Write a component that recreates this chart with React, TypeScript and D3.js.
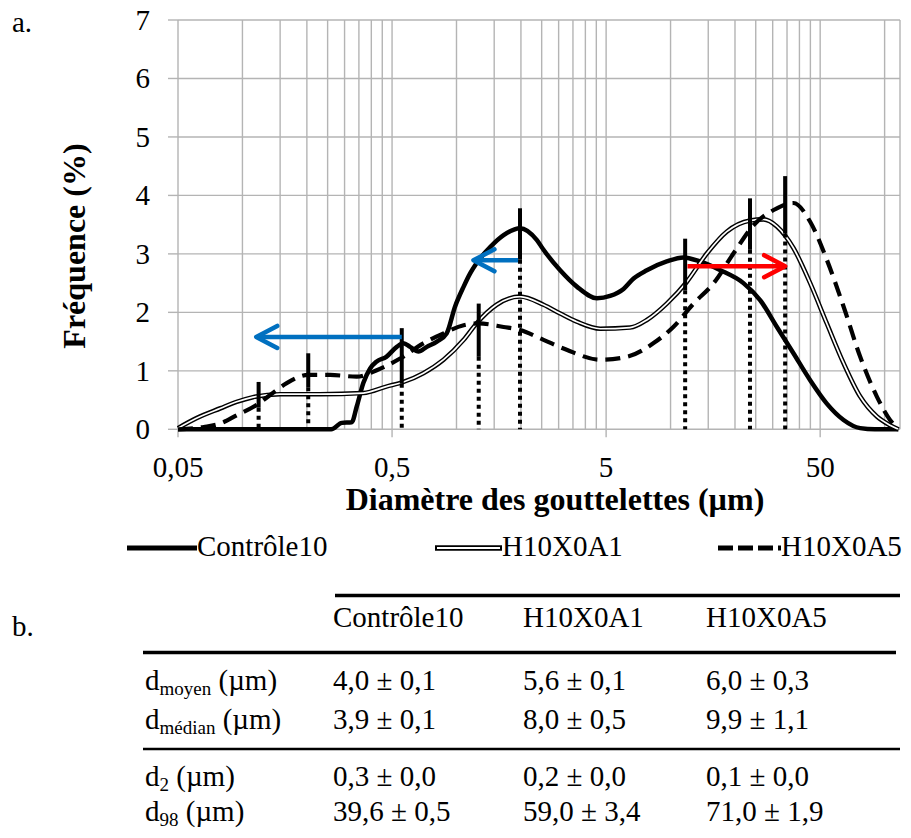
import React from 'react';
import * as d3 from 'd3';

// ---- Data (diameter in µm, frequency in %) ----
const controleX = [0.05, 0.26, 0.291, 0.324, 0.342, 0.367, 0.395, 0.424, 0.47, 0.526, 0.565, 0.607, 0.664, 0.727, 0.81, 0.9, 0.985, 1.08, 1.16, 1.24, 1.44, 1.66, 1.98, 2.37, 2.55, 3.05, 3.65, 4.53, 5.22, 6.03, 6.72, 7.75, 9.6, 11.5, 13.7, 17.1, 21.9, 26.2, 31.4, 37.5, 44.9, 53.7, 64.3, 76.9, 90, 116];
const controleY = [0, 0, 0.11, 0.12, 0.39, 0.79, 1.04, 1.16, 1.24, 1.41, 1.47, 1.41, 1.33, 1.41, 1.5, 1.64, 2.1, 2.44, 2.67, 2.84, 3.12, 3.32, 3.44, 3.24, 3.07, 2.72, 2.44, 2.24, 2.28, 2.4, 2.58, 2.72, 2.87, 2.94, 2.87, 2.72, 2.5, 2.21, 1.75, 1.3, 0.84, 0.44, 0.16, 0.02, 0, 0];

const a1X = [0.05, 0.061, 0.079, 0.094, 0.112, 0.15, 0.23, 0.367, 0.47, 0.565, 0.7, 0.87, 1.08, 1.24, 1.54, 1.98, 2.55, 3.05, 3.65, 4.69, 6.47, 7.75, 9.6, 11.9, 14.8, 18.3, 23.5, 27.2, 31.4, 37.5, 44.9, 53.7, 64.3, 76.9, 92, 106, 116];
const a1Y = [0.02, 0.19, 0.36, 0.47, 0.55, 0.6, 0.6, 0.62, 0.73, 0.81, 0.96, 1.19, 1.53, 1.81, 2.13, 2.27, 2.13, 1.98, 1.84, 1.72, 1.74, 1.87, 2.15, 2.52, 3.01, 3.38, 3.57, 3.59, 3.47, 3.1, 2.5, 1.81, 1.13, 0.56, 0.22, 0.07, 0];

const a5X = [0.05, 0.066, 0.079, 0.094, 0.119, 0.135, 0.161, 0.203, 0.257, 0.342, 0.424, 0.545, 0.7, 0.87, 1.08, 1.27, 1.66, 1.98, 2.55, 3.27, 4.69, 6.25, 8.3, 10.3, 12.8, 15.9, 19.7, 24.4, 30.3, 37.5, 44.9, 53.7, 64.3, 76.9, 92, 106, 116];
const a5Y = [0, 0.04, 0.1, 0.24, 0.44, 0.59, 0.79, 0.93, 0.93, 0.9, 1.01, 1.21, 1.47, 1.64, 1.78, 1.81, 1.75, 1.7, 1.53, 1.36, 1.19, 1.24, 1.47, 1.75, 2.15, 2.5, 3.01, 3.49, 3.75, 3.87, 3.55, 2.9, 2.1, 1.24, 0.56, 0.16, 0];

// characteristic-diameter markers (solid part + dotted drop line)
const markerX = [0.119, 0.203, 0.555, 1.27, 1.98, 11.7, 23.5, 34.3];
const markerTop = [0.81, 1.3, 1.73, 2.15, 3.78, 3.26, 3.95, 4.33];
const markerSolidBottom = [0.37, 0.72, 0.78, 1.24, 2.9, 2.38, 3.07, 3.35];

// arrows
const arrowFromX = [0.555, 1.94, 12.0];
const arrowToX = [0.116, 1.2, 34.3];
const arrowY = [1.58, 2.89, 2.79];
const arrowColor = ['#0070C0', '#0070C0', '#FF0000'];

const yTicks = [0, 1, 2, 3, 4, 5, 6, 7];
const xTickValues = [0.05, 0.5, 5, 50];
const xTickLabels = ['0,05', '0,5', '5', '50'];

const legendNames = ['Contrôle10', 'H10X0A1', 'H10X0A5'];

const tableHeaders = ['Contrôle10', 'H10X0A1', 'H10X0A5'];
const rowMain = ['d', 'd', 'd', 'd'];
const rowSub = ['moyen', 'médian', '2', '98'];
const rowRest = [' (µm)', ' (µm)', ' (µm)', ' (µm)'];
const tableValues = [
  ['4,0 ± 0,1', '5,6 ± 0,1', '6,0 ± 0,3'],
  ['3,9 ± 0,1', '8,0 ± 0,5', '9,9 ± 1,1'],
  ['0,3 ± 0,0', '0,2 ± 0,0', '0,1 ± 0,0'],
  ['39,6 ± 0,5', '59,0 ± 3,4', '71,0 ± 1,9'],
];

const FONT = "'Liberation Serif', 'Times New Roman', serif";
const GRID = '#B4B4B4';

export default function App() {
  const W = 911, H = 838;
  const x = d3.scaleLog().domain([0.05, 118]).range([178, 900]);
  const y = d3.scaleLinear().domain([0, 7]).range([429.3, 20]);

  const line = d3
    .line<[number, number]>()
    .x((d) => x(d[0]))
    .y((d) => y(d[1]))
    .curve(d3.curveMonotoneX);

  const ctrl = line(controleX.map((v, i) => [v, controleY[i]]) as [number, number][]) || '';
  const a1 = line(a1X.map((v, i) => [v, a1Y[i]]) as [number, number][]) || '';
  const a5 = line(a5X.map((v, i) => [v, a5Y[i]]) as [number, number][]) || '';

  // vertical gridlines: 0.05*k*10^n
  const vGrid: number[] = [];
  [0.05, 0.5, 5, 50].forEach((b) => {
    for (let k = 1; k <= 9; k++) {
      const v = b * k;
      if (v <= 118) vGrid.push(v);
    }
  });

  const fs = 29;
  const colX = [333, 523, 706];
  const rowBase = [690, 729, 786, 821];

  return (
    <svg
      width={W}
      height={H}
      style={{ position: 'absolute', left: 0, top: 0, background: '#fff' }}
      fontFamily={FONT}
    >
      <rect x={0} y={0} width={W} height={H} fill="#fff" />
      {/* gridlines */}
      {yTicks.map((t) => (
        <line key={'h' + t} x1={178} x2={900} y1={y(t)} y2={y(t)} stroke={GRID} strokeWidth={1.4} />
      ))}
      {vGrid.map((v, i) => (
        <line key={'v' + i} x1={x(v)} x2={x(v)} y1={y(7)} y2={y(0)} stroke={GRID} strokeWidth={1.4} />
      ))}
      <line x1={900} x2={900} y1={y(7)} y2={y(0)} stroke={GRID} strokeWidth={1.4} />
      {/* y ticks */}
      {yTicks.map((t) => (
        <line key={'yt' + t} x1={168} x2={178} y1={y(t)} y2={y(t)} stroke={GRID} strokeWidth={1.4} />
      ))}
      {xTickValues.map((v, i) => (
        <line key={'xt' + i} x1={x(v)} x2={x(v)} y1={y(0)} y2={y(0) + 8} stroke={GRID} strokeWidth={1.4} />
      ))}
      {/* y labels */}
      {yTicks.map((t) => (
        <text key={'yl' + t} x={150} y={y(t) + 10} textAnchor="end" fontSize={fs}>
          {t}
        </text>
      ))}
      {xTickValues.map((v, i) => (
        <text key={'xl' + i} x={x(v)} y={477} textAnchor="middle" fontSize={fs}>
          {xTickLabels[i]}
        </text>
      ))}
      <text x={555} y={510} textAnchor="middle" fontSize={32} fontWeight="bold">
        Diamètre des gouttelettes (µm)
      </text>
      <text transform="translate(85,246) rotate(-90)" textAnchor="middle" fontSize={32} fontWeight="bold">
        Fréquence (%)
      </text>
      <text x={12} y={32} fontSize={fs}>a.</text>

      {/* series */}
      <path d={ctrl} fill="none" stroke="#000" strokeWidth={4.5} strokeLinejoin="round" />
      <path d={a1} fill="none" stroke="#000" strokeWidth={4.6} strokeLinejoin="round" />
      <path d={a1} fill="none" stroke="#fff" strokeWidth={1.7} strokeLinejoin="round" />
      <path d={a5} fill="none" stroke="#000" strokeWidth={4.2} strokeDasharray="15,8" />

      {/* markers */}
      {markerX.map((v, i) => (
        <g key={'m' + i}>
          <line x1={x(v)} x2={x(v)} y1={y(markerSolidBottom[i])} y2={y(0)} stroke="#000" strokeWidth={4} strokeDasharray="4,4" />
          <line x1={x(v)} x2={x(v)} y1={y(markerTop[i])} y2={y(markerSolidBottom[i])} stroke="#000" strokeWidth={4} />
        </g>
      ))}

      {/* arrows */}
      {arrowFromX.map((v, i) => {
        const x0 = x(v), x1 = x(arrowToX[i]), yy = y(arrowY[i]);
        const dir = x1 < x0 ? 1 : -1;
        return (
          <g key={'a' + i} stroke={arrowColor[i]} strokeWidth={4.5} fill="none" strokeLinecap="round" strokeLinejoin="round">
            <line x1={x0} x2={x1 + dir * 2} y1={yy} y2={yy} strokeLinecap="butt" />
            <polyline points={`${x1 + dir * 21},${yy - 11} ${x1},${yy} ${x1 + dir * 21},${yy + 11}`} />
          </g>
        );
      })}

      {/* legend */}
      <line x1={127} x2={197} y1={548} y2={548} stroke="#000" strokeWidth={5} />
      <text x={197} y={556} fontSize={fs}>{legendNames[0]}</text>
      <line x1={435} x2={502} y1={548} y2={548} stroke="#000" strokeWidth={5.5} />
      <line x1={437} x2={500} y1={548} y2={548} stroke="#fff" strokeWidth={2} />
      <text x={502} y={556} fontSize={fs}>{legendNames[1]}</text>
      <line x1={718} x2={781} y1={548} y2={548} stroke="#000" strokeWidth={5} strokeDasharray="15,5" />
      <text x={781} y={556} fontSize={fs}>{legendNames[2]}</text>

      {/* table */}
      <text x={12} y={636} fontSize={fs}>b.</text>
      <line x1={335} x2={900} y1={595.5} y2={595.5} stroke="#000" strokeWidth={3.5} />
      {tableHeaders.map((h, i) => (
        <text key={'th' + i} x={colX[i]} y={627} fontSize={fs}>{h}</text>
      ))}
      <line x1={143} x2={896} y1={652.5} y2={652.5} stroke="#000" strokeWidth={3.5} />
      <line x1={143} x2={900} y1={749} y2={749} stroke="#000" strokeWidth={2.5} />
      {rowMain.map((m, r) => (
        <g key={'r' + r}>
          <text x={145} y={rowBase[r]} fontSize={fs}>
            {m}
            <tspan fontSize={19} dy={5}>{rowSub[r]}</tspan>
            <tspan dy={-5}>{rowRest[r]}</tspan>
          </text>
          {tableValues[r].map((val, c) => (
            <text key={'c' + c} x={colX[c]} y={rowBase[r]} fontSize={fs}>{val}</text>
          ))}
        </g>
      ))}
    </svg>
  );
}
